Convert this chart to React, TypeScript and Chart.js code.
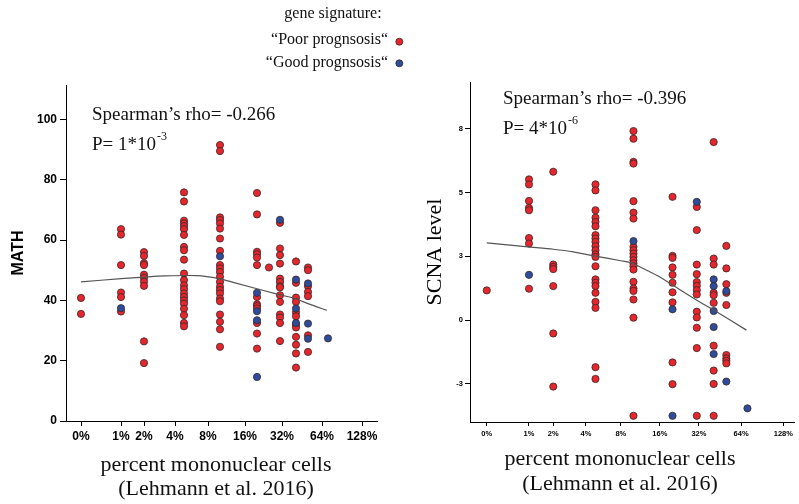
import React, { useEffect, useRef } from "react";
import { Chart, registerables } from "chart.js";
Chart.register(...registerables);

// ---------- data ----------
const xTickLabels = ["0%", "1%", "2%", "4%", "8%", "16%", "32%", "64%", "128%"];
const xTickPos = [0, 40, 63, 94, 127, 164, 201, 241, 281];
// x position (axis units) of each column of cases
const columnPos = [0, 40, 63, 103, 139, 176, 188, 199, 215, 227, 247];

const mathPoor: number[][] = [
  [40.8, 35.5],
  [63.6, 61.8, 51.7, 42.6, 41.1, 36.3],
  [56, 54.7, 52.3, 51.7, 48.5, 47.5, 46.2, 44.8, 26.4, 19.2],
  [75.8, 72.8, 66.4, 65.5, 64.6, 63.6, 61.7, 57.7, 56.6, 53.5, 48.9, 46.7, 45.0, 43.7, 42.3, 41.1, 40.0, 38.9, 37.2, 35.1, 32.5, 31.4],
  [91.5, 89.5, 67.5, 66.6, 65.5, 63.8, 60.5, 56.4, 51.7, 50.6, 49.4, 47.8, 46.1, 44.5, 43.4, 42.3, 40.6, 39.7, 35.3, 32.9, 30.4, 24.6],
  [75.6, 68.5, 56.1, 55.3, 54.2, 51.7, 41.1, 38.7, 38.1, 37.3, 32.5, 29.0, 24.0],
  [50.9],
  [65.7, 57.2, 55.0, 52.2, 47.2, 46.1, 44.7, 44.3, 41.7, 39.5, 35.3, 34.3, 32.5, 26.5],
  [52.9, 45.8, 40.9, 39.5, 36.0, 34.7, 31.8, 31.0, 27.9, 25.3, 22.4, 17.7],
  [50.9, 50.0, 44.7, 42.8, 41.4, 28.4, 22.9],
  [],
];
const mathGood: number[][] = [
  [],
  [37.4],
  [],
  [],
  [54.6],
  [42.5, 36.4, 33.4, 14.6],
  [],
  [66.7],
  [46.9, 37.3, 32.5],
  [45.6, 32.3, 27.3],
  [27.4],
];
const mathFitX = [0, 40, 63, 84, 116, 138, 154, 198, 214, 227, 246];
const mathFitY = [46.1, 47.2, 47.7, 48.1, 48.2, 47.2, 45.8, 41.9, 40.6, 38.9, 36.7];
const mathYTicks = [0, 20, 40, 60, 80, 100];

const scnaPoor: number[][] = [
  [1.24],
  [5.88, 5.67, 4.98, 4.69, 4.59, 3.43, 3.2, 1.31],
  [6.2, 2.32, 2.22, 2.13, 1.42, -0.56, -2.78],
  [5.67, 5.42, 4.59, 4.28, 4.1, 3.92, 3.55, 3.41, 3.27, 3.09, 2.92, 2.75, 2.64, 2.25, 1.7, 1.56, 1.42, 1.14, 0.76, 0.51, -1.97, -2.46],
  [7.9, 7.58, 6.61, 6.54, 4.97, 4.49, 4.24, 3.06, 2.92, 2.78, 2.64, 2.5, 2.37, 2.25, 2.11, 1.6, 1.32, 1.22, 0.86, 0.1, -4.0],
  [5.15, 2.68, 2.6, 2.2, 1.89, 1.56, 1.16, 0.74, -1.77, -2.68],
  [],
  [4.73, 3.76, 2.32, 1.92, 1.59, 1.43, 1.25, 1.07, 0.35, 0.11, -0.32, -1.17, -4.0],
  [7.44, 2.57, 2.32, 1.14, 1.04, 0.72, -1.07, -2.11, -2.67, -4.0],
  [3.1, 2.16, 1.5, 1.14, 0.63, -1.46, -1.6, -1.7, -1.81],
  [],
];
const scnaGood: number[][] = [
  [],
  [1.89],
  [],
  [],
  [3.3],
  [0.45, -4.0],
  [],
  [4.94],
  [1.7, 1.42, 0.38, -0.29, -1.42],
  [1.21, -2.57],
  [-3.69],
];
const scnaFitX = [0, 39, 63, 82, 103, 127, 137, 153, 162, 199, 215, 246];
const scnaFitY = [3.23, 3.06, 2.96, 2.85, 2.67, 2.48, 2.39, 2.05, 1.85, 0.83, 0.42, -0.42];
const scnaYTicks = [-8 / 3, 0, 8 / 3, 16 / 3, 8];

// ---------- helpers ----------
const SANS = "'Liberation Sans', Arial, sans-serif";
const SERIF = "'Liberation Serif', 'Times New Roman', serif";
const RED = "#e5262d";
const BLUE = "#2e4c9c";
const EDGE = "#3a2626";

const toPoints = (cols: number[][]) =>
  cols.flatMap((ys, i) => ys.map((y) => ({ x: columnPos[i], y })));
const fitPoints = (xs: number[], ys: number[]) => xs.map((x, i) => ({ x, y: ys[i] }));

type TextItem = {
  text: string;
  x: number;
  y: number;
  size: number;
  align?: CanvasTextAlign;
  sup?: string;
  supSize?: number;
  supDy?: number;
};
type Dot = { x: number; y: number; color: string };

const textPlugin = (items: TextItem[], dots: Dot[]) => ({
  id: "texts",
  afterDraw(chart: any) {
    const ctx = chart.ctx as CanvasRenderingContext2D;
    ctx.save();
    ctx.fillStyle = "#111";
    ctx.textBaseline = "alphabetic";
    for (const t of items) {
      ctx.font = `${t.size}px ${SERIF}`;
      ctx.textAlign = t.align || "left";
      ctx.fillText(t.text, t.x, t.y);
      if (t.sup) {
        const w = ctx.measureText(t.text).width;
        ctx.font = `${t.supSize || 12}px ${SERIF}`;
        ctx.textAlign = "left";
        ctx.fillText(t.sup, t.x + w + 1, t.y - (t.supDy || 10));
      }
    }
    for (const d of dots) {
      ctx.beginPath();
      ctx.arc(d.x, d.y, 3.5, 0, Math.PI * 2);
      ctx.fillStyle = d.color;
      ctx.fill();
      ctx.lineWidth = 0.8;
      ctx.strokeStyle = EDGE;
      ctx.stroke();
    }
    ctx.restore();
  },
});

type PanelCfg = {
  poor: number[][];
  good: number[][];
  fitX: number[];
  fitY: number[];
  yTicks: number[];
  yMin: number;
  yMax: number;
  xMin: number;
  xMax: number;
  yWidth: number;
  xHeight: number;
  padTop: number;
  padRight: number;
  tickFont: number;
  xTickLen: number;
  yTickLen: number;
  yTickPad: number;
  yTitle: string;
  yTitleFont: any;
  yTitlePad: number;
  texts: TextItem[];
  dots: Dot[];
};

function buildConfig(p: PanelCfg): any {
  return {
    type: "scatter",
    data: {
      datasets: [
        {
          type: "line",
          data: fitPoints(p.fitX, p.fitY),
          borderColor: "#555",
          borderWidth: 1.2,
          pointRadius: 0,
          tension: 0.25,
          fill: false,
          order: 0,
        },
        {
          data: toPoints(p.good),
          backgroundColor: BLUE,
          borderColor: EDGE,
          borderWidth: 0.8,
          pointRadius: 3.6,
          order: 1,
        },
        {
          data: toPoints(p.poor),
          backgroundColor: RED,
          borderColor: EDGE,
          borderWidth: 0.8,
          pointRadius: 3.6,
          order: 2,
        },
      ],
    },
    options: {
      responsive: false,
      animation: false,
      devicePixelRatio: 1,
      clip: false,
      layout: { padding: { left: 0, top: p.padTop, right: p.padRight, bottom: 0 } },
      plugins: { legend: { display: false }, tooltip: { enabled: false } },
      scales: {
        x: {
          type: "linear",
          min: p.xMin,
          max: p.xMax,
          afterBuildTicks: (s: any) => {
            s.ticks = xTickPos.map((v) => ({ value: v }));
          },
          afterFit: (s: any) => {
            s.height = p.xHeight;
          },
          ticks: {
            callback: (_v: any, i: number) => xTickLabels[i],
            font: { family: SANS, weight: "bold", size: p.tickFont },
            color: "#000",
            padding: 3,
            maxRotation: 0,
            autoSkip: false,
          },
          grid: { display: true, drawOnChartArea: false, drawTicks: true, tickLength: p.xTickLen, color: "#000" },
          border: { display: true, color: "#000", width: 1 },
        },
        y: {
          type: "linear",
          min: p.yMin,
          max: p.yMax,
          afterBuildTicks: (s: any) => {
            s.ticks = p.yTicks.map((v) => ({ value: v }));
          },
          afterFit: (s: any) => {
            s.width = p.yWidth;
          },
          ticks: {
            callback: (v: any) => String(Math.round(Number(v))),
            font: { family: SANS, weight: "bold", size: p.tickFont },
            color: "#000",
            padding: p.yTickPad,
          },
          grid: { display: true, drawOnChartArea: false, drawTicks: true, tickLength: p.yTickLen, color: "#000" },
          border: { display: true, color: "#000", width: 1 },
          title: {
            display: true,
            text: p.yTitle,
            font: p.yTitleFont,
            color: "#000",
            padding: { top: p.yTitlePad, bottom: 0 },
          },
        },
      },
    },
    plugins: [textPlugin(p.texts, p.dots)],
  };
}

const leftPanel: PanelCfg = {
  poor: mathPoor,
  good: mathGood,
  fitX: mathFitX,
  fitY: mathFitY,
  yTicks: mathYTicks,
  yMin: 0,
  yMax: 111.4,
  xMin: -15,
  xMax: 296,
  yWidth: 66,
  xHeight: 83,
  padTop: 85,
  padRight: 420 - 377,
  tickFont: 12,
  xTickLen: 5,
  yTickLen: 6,
  yTickPad: 3,
  yTitle: "MATH",
  yTitleFont: { family: SANS, weight: "bold", size: 16 },
  yTitlePad: 9,
  texts: [
    { text: "gene signature:", x: 333, y: 17.5, size: 16, align: "center" },
    { text: "\u201CPoor prognsosis\u201C", x: 388, y: 44, size: 16, align: "right" },
    { text: "\u201CGood prognsosis\u201C", x: 388, y: 66.7, size: 16, align: "right" },
    { text: "Spearman\u2019s rho= -0.266", x: 92, y: 119.5, size: 19 },
    { text: "P= 1*10", x: 92, y: 149.5, size: 19, sup: "-3", supSize: 12, supDy: 10 },
    { text: "percent mononuclear cells", x: 216, y: 471, size: 22, align: "center" },
    { text: "(Lehmann et al. 2016)", x: 216, y: 495, size: 22, align: "center" },
  ],
  dots: [
    { x: 399.3, y: 41.7, color: RED },
    { x: 399.3, y: 63.3, color: BLUE },
  ],
};

const rightPanel: PanelCfg = {
  poor: scnaPoor,
  good: scnaGood,
  fitX: scnaFitX,
  fitY: scnaFitY,
  yTicks: scnaYTicks,
  yMin: -4.26,
  yMax: 9.95,
  xMin: -15.9,
  xMax: 291.3,
  yWidth: 70,
  xHeight: 504 - 422,
  padTop: 82,
  padRight: 1,
  tickFont: 7.5,
  xTickLen: 4,
  yTickLen: 5,
  yTickPad: 2,
  yTitle: "SCNA level",
  yTitleFont: { family: SERIF, weight: "normal", size: 22 },
  yTitlePad: 22,
  texts: [
    { text: "Spearman\u2019s rho= -0.396", x: 103, y: 104, size: 19 },
    { text: "P= 4*10", x: 103, y: 133.5, size: 19, sup: "-6", supSize: 12, supDy: 10 },
    { text: "percent mononuclear cells", x: 220, y: 465, size: 22, align: "center" },
    { text: "(Lehmann et al. 2016)", x: 220, y: 490, size: 22, align: "center" },
  ],
  dots: [],
};

function Panel({ cfg, left, width }: { cfg: PanelCfg; left: number; width: number }) {
  const ref = useRef<HTMLCanvasElement | null>(null);
  useEffect(() => {
    if (!ref.current) return;
    const chart = new Chart(ref.current, buildConfig(cfg));
    return () => chart.destroy();
  }, [cfg]);
  return (
    <canvas
      ref={ref}
      width={width}
      height={504}
      style={{ position: "absolute", left, top: 0, width, height: 504 }}
    />
  );
}

export default function App() {
  return (
    <div style={{ position: "absolute", left: 0, top: 0, width: 799, height: 504, background: "#fff", overflow: "hidden" }}>
      <Panel cfg={leftPanel} left={0} width={420} />
      <Panel cfg={rightPanel} left={400} width={399} />
    </div>
  );
}
